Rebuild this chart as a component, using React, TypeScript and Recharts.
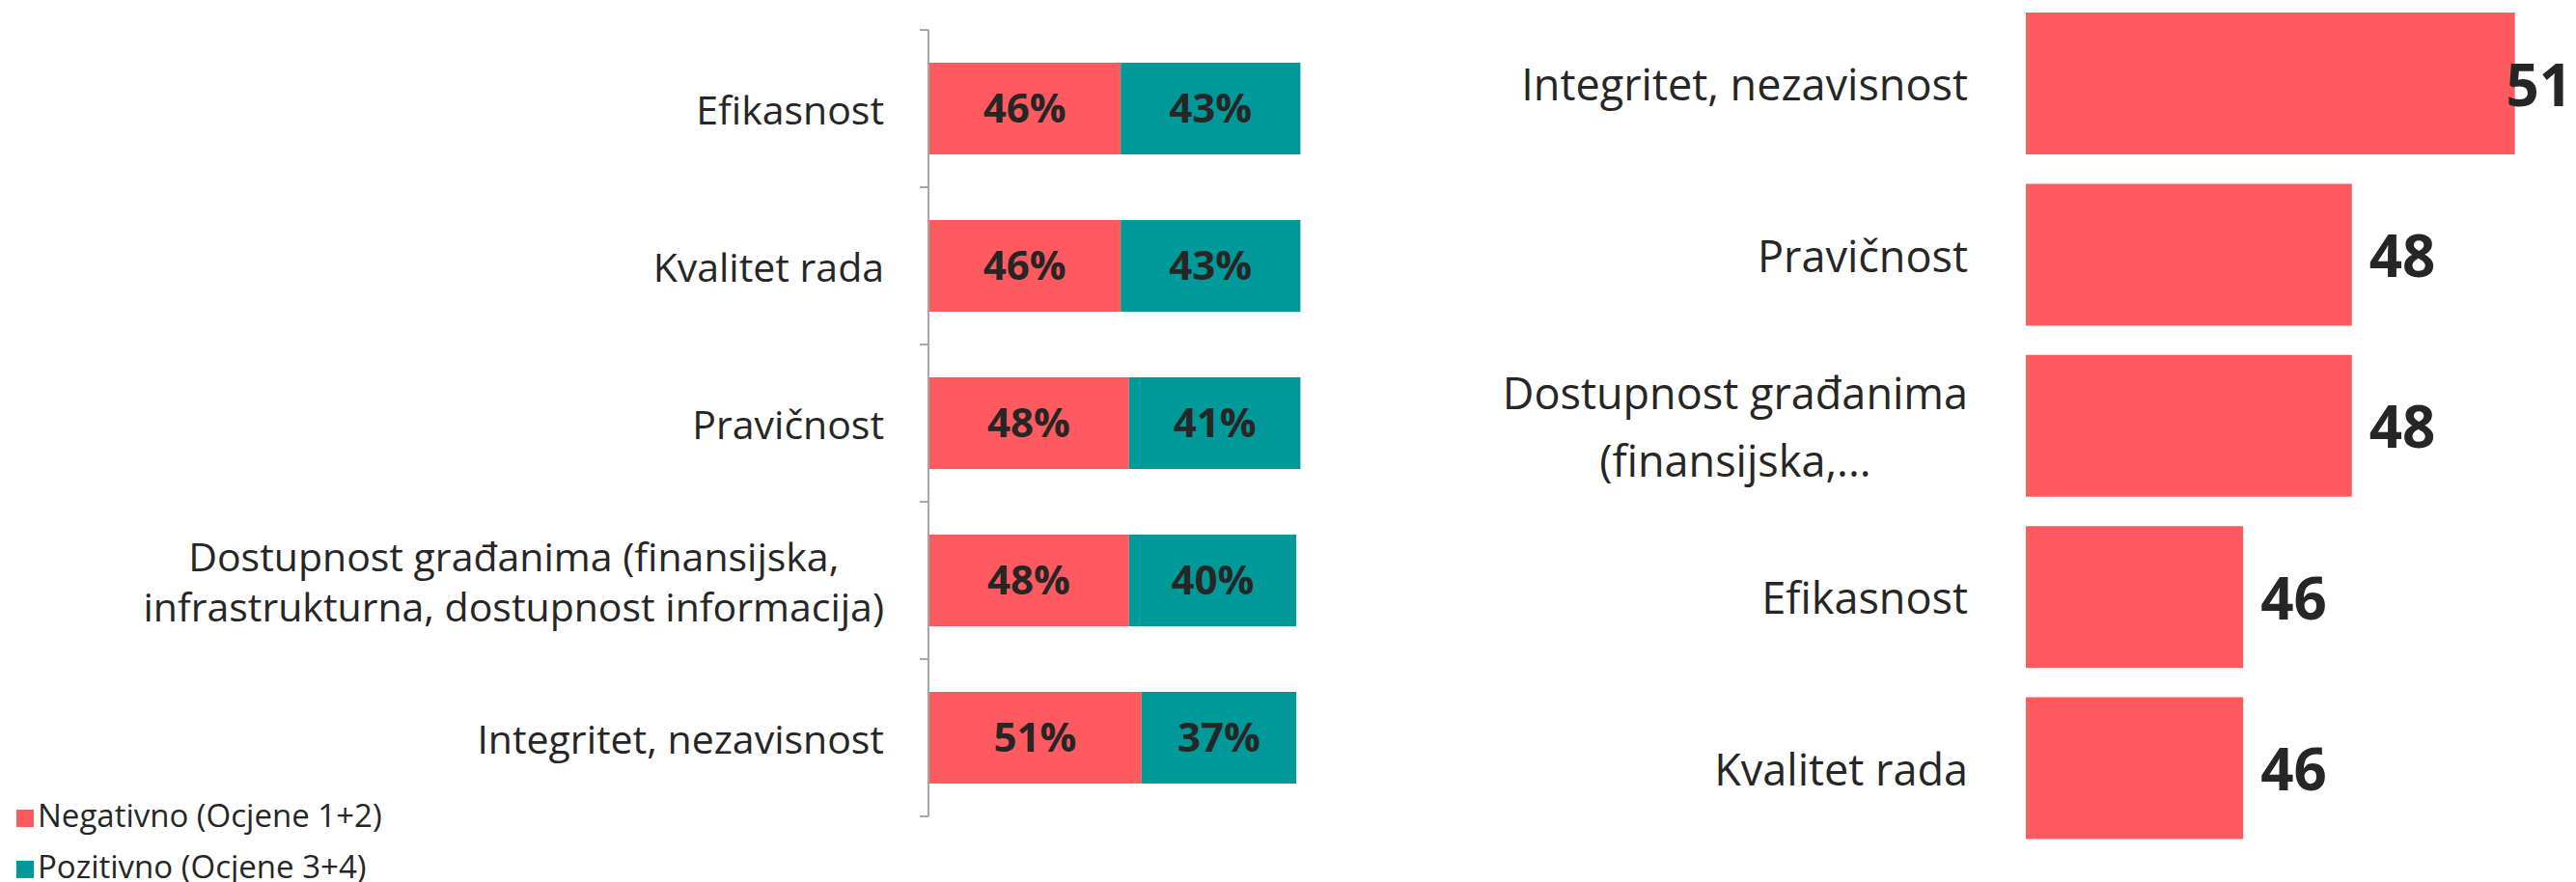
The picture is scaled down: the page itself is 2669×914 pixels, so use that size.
import React from 'react';
import { BarChart, Bar, XAxis, YAxis, Legend, LabelList } from 'recharts';

// left chart: share of negative / positive ratings per aspect
const aspectLabels = [
  'Efikasnost',
  'Kvalitet rada',
  'Pravičnost',
  'Dostupnost građanima (finansijska,\ninfrastrukturna, dostupnost informacija)',
  'Integritet, nezavisnost',
];
const negativeShare = [46, 46, 48, 48, 51];
const positiveShare = [43, 43, 41, 40, 37];

// right chart: negative ratings, sorted
const rankedLabels = [
  'Integritet, nezavisnost',
  'Pravičnost',
  'Dostupnost građanima\n(finansijska,...',
  'Efikasnost',
  'Kvalitet rada',
];
const rankedNegative = [51, 48, 48, 46, 46];

const RED = '#FF5A5F';
const TEAL = '#009999';
const TEXT = '#262626';
const FONT = '"Open Sans", "Noto Sans", sans-serif';

const RIGHT_W = 1249;

const leftData = aspectLabels.map((name, i) => ({
  name,
  neg: negativeShare[i],
  pos: positiveShare[i],
}));
const rightData = rankedLabels.map((name, i) => ({ name, value: rankedNegative[i] }));

let ctx: CanvasRenderingContext2D | null = null;
function textWidth(text: string, size: number, weight = 'normal') {
  if (!ctx) ctx = document.createElement('canvas').getContext('2d');
  if (!ctx) return text.length * size * 0.5;
  ctx.font = `${weight} ${size}px "Open Sans", "Noto Sans", sans-serif`;
  return ctx.measureText(text).width;
}

function CategoryTick(props: any) {
  const { x, y, payload, index, visibleTicksCount, gap, fontSize, lineHeight, marks } = props;
  const lines = String(payload.value).split('\n');
  const maxW = Math.max(...lines.map((l: string) => textWidth(l, fontSize)));
  const half = payload.offset || 0;
  return (
    <g>
      {lines.map((line: string, i: number) => (
        <text
          key={i}
          x={lines.length > 1 ? x - gap - maxW / 2 : x - gap}
          y={y + (i - (lines.length - 1) / 2) * lineHeight}
          textAnchor={lines.length > 1 ? 'middle' : 'end'}
          dominantBaseline="central"
          fontSize={fontSize}
          fontFamily={FONT}
          fill={TEXT}
        >
          {line}
        </text>
      ))}
      {marks && <line x1={x - 9} x2={x} y1={y - half} y2={y - half} stroke="#A6A6A6" strokeWidth={2} />}
      {marks && index === visibleTicksCount - 1 && (
        <line x1={x - 9} x2={x} y1={y + half} y2={y + half} stroke="#A6A6A6" strokeWidth={2} />
      )}
    </g>
  );
}

function ScoreLabel(props: any) {
  const { x, y, width, height, value } = props;
  const size = 60;
  const w = textWidth(String(value), size, 'bold');
  let lx = x + width + 18;
  // keep the label inside the picture, like the original does
  if (lx + w > RIGHT_W - 4) lx = RIGHT_W - 4 - w;
  return (
    <text
      x={lx}
      y={y + height / 2}
      dominantBaseline="central"
      fontSize={size}
      fontWeight="bold"
      fontFamily={FONT}
      fill={TEXT}
    >
      {value}
    </text>
  );
}

export default function App() {
  return (
    <div
      style={{
        position: 'absolute',
        left: 0,
        top: 0,
        width: 2669,
        height: 914,
        background: '#fff',
        overflow: 'hidden',
        fontFamily: FONT,
      }}
    >
      <div style={{ position: 'absolute', left: 0, top: 0 }}>
        <BarChart
          width={1420}
          height={914}
          data={leftData}
          layout="vertical"
          barSize={95}
          margin={{ top: 31, right: 25, bottom: 68, left: 0 }}
        >
          <XAxis type="number" domain={[0, 100]} hide />
          <YAxis
            type="category"
            dataKey="name"
            width={962}
            axisLine={{ stroke: '#A6A6A6', strokeWidth: 2 }}
            tickLine={false}
            tickSize={0}
            tickMargin={0}
            interval={0}
            tick={(p: any) => <CategoryTick {...p} gap={46} fontSize={41} lineHeight={52} marks />}
          />
          <Legend
            layout="horizontal"
            verticalAlign="top"
            align="left"
            iconType="square"
            iconSize={18}
            formatter={(value: string) => <span style={{ color: TEXT, whiteSpace: 'nowrap' }}>{value}</span>}
            wrapperStyle={{
              left: 17,
              top: 818,
              width: 470,
              height: 0,
              overflow: 'visible',
              fontSize: 33,
              lineHeight: '53px',
              fontFamily: FONT,
            }}
          />
          <Bar dataKey="neg" name="Negativno (Ocjene 1+2)" stackId="a" fill={RED} isAnimationActive={false}>
            <LabelList
              dataKey="neg"
              position="center"
              formatter={(v: any) => `${v}%`}
              fill={TEXT}
              fontSize={42}
              fontWeight="bold"
              fontFamily={FONT}
            />
          </Bar>
          <Bar dataKey="pos" name="Pozitivno (Ocjene 3+4)" stackId="a" fill={TEAL} isAnimationActive={false}>
            <LabelList
              dataKey="pos"
              position="center"
              formatter={(v: any) => `${v}%`}
              fill={TEXT}
              fontSize={42}
              fontWeight="bold"
              fontFamily={FONT}
            />
          </Bar>
        </BarChart>
      </div>

      <div style={{ position: 'absolute', left: 1420, top: 0 }}>
        <BarChart
          width={RIGHT_W}
          height={914}
          data={rightData}
          layout="vertical"
          barSize={147}
          margin={{ top: -2, right: 7, bottom: 29, left: 0 }}
        >
          <XAxis type="number" domain={[42, 52]} allowDataOverflow hide />
          <YAxis
            type="category"
            dataKey="name"
            width={679}
            axisLine={false}
            tickLine={false}
            tickSize={0}
            tickMargin={0}
            interval={0}
            tick={(p: any) => <CategoryTick {...p} gap={60} fontSize={45} lineHeight={70} />}
          />
          <Bar dataKey="value" fill={RED} isAnimationActive={false}>
            <LabelList dataKey="value" content={(p: any) => <ScoreLabel {...p} />} />
          </Bar>
        </BarChart>
      </div>
    </div>
  );
}
